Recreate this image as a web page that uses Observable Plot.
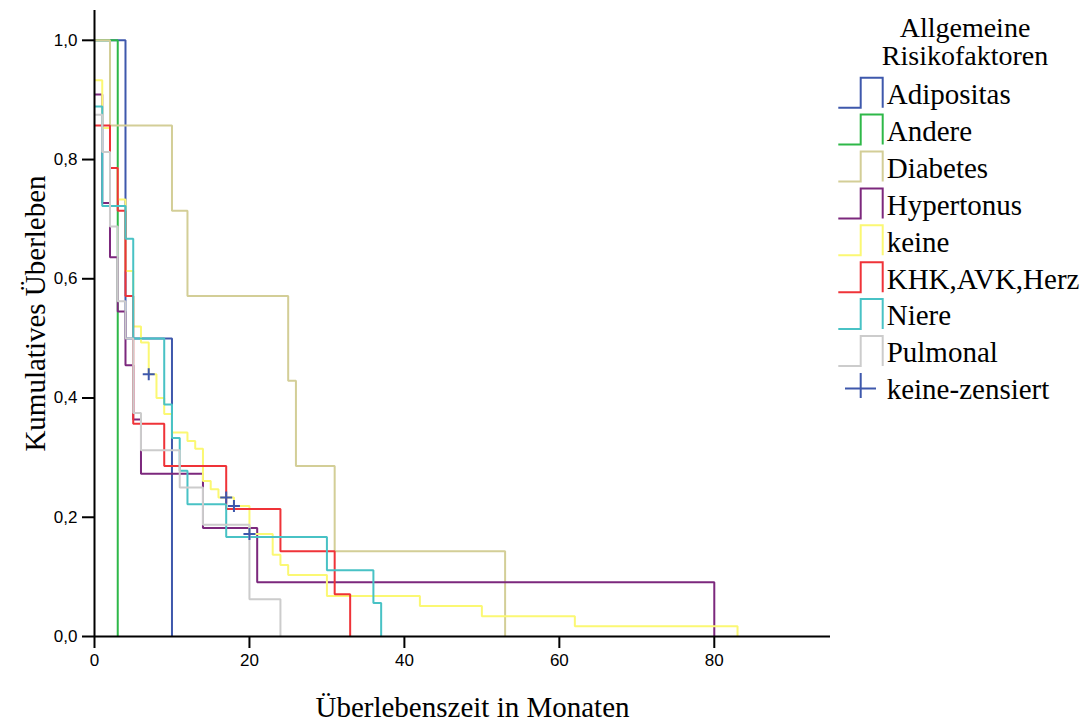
<!DOCTYPE html>
<html><head><meta charset="utf-8">
<script src="https://cdn.jsdelivr.net/npm/d3@7"></script>
<script src="https://cdn.jsdelivr.net/npm/@observablehq/plot@0.6"></script>
<style>
body{margin:0;background:#fff}
#wrap{display:flex;width:1088px;height:725px;background:#fff}
#wrap g[aria-label="y-axis tick label"], #wrap g[aria-label="x-axis tick label"]{font-size:17px !important;font-family:'Liberation Sans',Arial,sans-serif !important}
</style>
</head><body><div id="wrap"></div>
<script>
// Groups, legend labels and colours
const groups = ["Adipositas","Andere","Diabetes","Hypertonus","keine","KHK,AVK,Herz","Niere","Pulmonal"];
const colors = ["#3E58AC","#2EB848","#D3CE97","#7C287D","#FBF873","#EF3338","#48C2C5","#CCCCCC"];

// Kaplan-Meier step data (time in months, cumulative survival)
const adipositasT = [0, 4, 10];
const adipositasS = [1.0, 0.5, 0.0];
const andereT = [0, 3];
const andereS = [1.0, 0.0];
const diabetesT = [0, 2, 10, 12, 25, 26, 31, 53];
const diabetesS = [1.0, 0.857, 0.714, 0.571, 0.429, 0.286, 0.143, 0.0];
const hypertonusT = [0, 1, 2, 3, 4, 5, 6, 14, 21, 80];
const hypertonusS = [0.909, 0.727, 0.636, 0.545, 0.455, 0.364, 0.273, 0.182, 0.091, 0.0];
const keineT = [0, 1, 2, 3, 4, 5, 6, 7, 8, 9, 10, 12, 13, 14, 15, 16, 18, 20, 23, 24, 25, 30, 42, 50, 62, 83];
const keineS = [0.933, 0.853, 0.786, 0.733, 0.613, 0.52, 0.493, 0.44, 0.40, 0.373, 0.342, 0.328, 0.315, 0.261, 0.247, 0.233, 0.219, 0.172, 0.137, 0.12, 0.103, 0.068, 0.051, 0.034, 0.017, 0.0];
const khkT = [0, 2, 3, 4, 5, 9, 17, 24, 31, 33];
const khkS = [0.857, 0.786, 0.714, 0.571, 0.357, 0.286, 0.214, 0.143, 0.071, 0.0];
const niereT = [0, 1, 4, 5, 9, 10, 11, 12, 17, 30, 36, 37];
const niereS = [0.889, 0.722, 0.667, 0.5, 0.389, 0.333, 0.278, 0.222, 0.167, 0.111, 0.056, 0.0];
const pulmonalT = [0, 1, 2, 3, 4, 5, 6, 11, 14, 20, 24];
const pulmonalS = [0.875, 0.8125, 0.6875, 0.5625, 0.5, 0.375, 0.3125, 0.25, 0.1875, 0.0625, 0.0];

// Censored observations (group "keine")
const censorT = [7, 17, 18, 20];
const censorS = [0.44, 0.233, 0.219, 0.172];

// Axis ticks
const xTicks = [0, 20, 40, 60, 80];
const yTicks = [0, 0.2, 0.4, 0.6, 0.8, 1.0];

const seriesT = [adipositasT, andereT, diabetesT, hypertonusT, keineT, khkT, niereT, pulmonalT];
const seriesS = [adipositasS, andereS, diabetesS, hypertonusS, keineS, khkS, niereS, pulmonalS];
const rows = groups.flatMap((g, i) => seriesT[i].map((t, j) => ({group: g, t, s: seriesS[i][j]})));
const censor = censorT.map((t, i) => ({group: "keine-zensiert", t, s: censorS[i]}));

const plusSymbol = {draw(ctx, size) { const r = Math.sqrt(size / Math.PI); ctx.moveTo(-r, 0); ctx.lineTo(r, 0); ctx.moveTo(0, -r); ctx.lineTo(0, r); }};
const serif = "'Liberation Serif','Times New Roman',serif";

const chart = Plot.plot({
  width: 834, height: 725,
  marginLeft: 94, marginRight: 4, marginTop: 10, marginBottom: 89,
  x: {domain: [0, 95]},
  y: {domain: [0, 1.05]},
  color: {domain: groups, range: colors},
  style: {fontFamily: "'Liberation Sans',Arial,sans-serif", fontSize: "17px", background: "#fff", color: "#000", overflow: "visible"},
  marks: [
    ...groups.map(g => Plot.line(rows.filter(d => d.group === g), {x: "t", y: "s", stroke: "group", curve: "step-after", strokeWidth: 2, strokeLinejoin: "miter", strokeLinecap: "butt"})),
    Plot.dot(censor, {x: "t", y: "s", symbol: plusSymbol, r: 6, stroke: colors[0], strokeWidth: 2, fill: "none"}),
    Plot.axisY({ticks: yTicks, tickFormat: d => d.toFixed(1).replace(".", ","), tickSize: 12, tickPadding: 5, strokeWidth: 2, label: null}),
    Plot.axisX({ticks: xTicks, tickSize: 12, tickPadding: 5, strokeWidth: 2, label: null}),
    Plot.ruleX([0], {strokeWidth: 2}),
    Plot.ruleY([0], {strokeWidth: 2}),
    Plot.text(["Kumulatives Überleben"], {text: d => d, frameAnchor: "left", textAnchor: "middle", lineAnchor: "middle", rotate: -90, dx: -59, dy: -10, fontFamily: serif, fontSize: 29}),
    Plot.text(["Überlebenszeit in Monaten"], {text: d => d, frameAnchor: "bottom", textAnchor: "middle", lineAnchor: "middle", dx: 10, dy: 71, fontFamily: serif, fontSize: 29})
  ]
});
const wrap = document.getElementById("wrap");
wrap.appendChild(chart);

// Legend
const ox = 834;
const leg = d3.create("svg").attr("width", 254).attr("height", 725).style("font-family", serif).style("font-size", "29px");
leg.append("text").attr("x", 965 - ox).attr("y", 37).attr("text-anchor", "middle").style("font-size", "28px").text("Allgemeine");
leg.append("text").attr("x", 965 - ox).attr("y", 65).attr("text-anchor", "middle").style("font-size", "28px").text("Risikofaktoren");
groups.forEach((g, i) => {
  const top = 77.7 + 36.9 * i, bot = top + 30;
  leg.append("path").attr("d", `M${838.3 - ox},${bot}H${860.7 - ox}V${top}H${882.7 - ox}V${bot}`)
    .attr("fill", "none").attr("stroke", colors[i]).attr("stroke-width", 2);
  leg.append("text").attr("x", 886.7 - ox).attr("y", 104 + 36.9 * i).text(g);
});
{
  const i = 8, top = 77.7 + 36.9 * i;
  leg.append("path").attr("d", `M${845 - ox},${top + 15.5}H${876 - ox}M${860.7 - ox},${top}V${top + 25}`)
    .attr("fill", "none").attr("stroke", colors[0]).attr("stroke-width", 2);
  leg.append("text").attr("x", 886.7 - ox).attr("y", 104 + 36.9 * i).text("keine-zensiert");
}
wrap.appendChild(leg.node());
</script>
</body></html>
